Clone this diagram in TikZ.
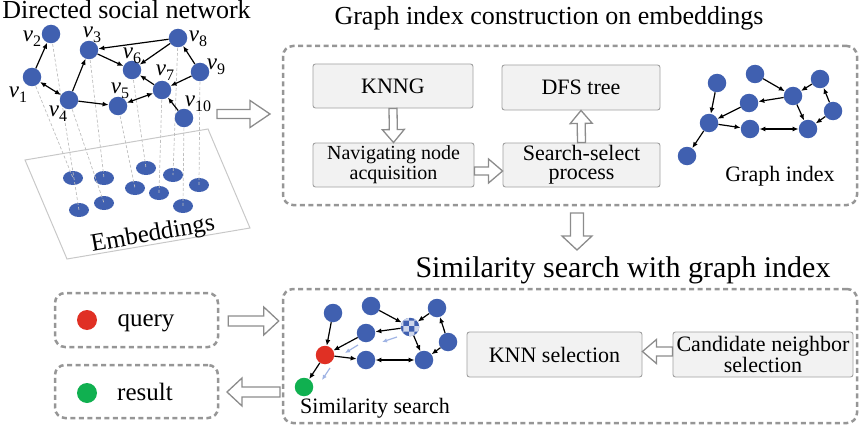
\documentclass[tikz,border=0pt]{standalone}
\usepackage{fontspec}
\setmainfont{Liberation Serif}
\usetikzlibrary{arrows.meta,shapes.geometric,patterns,calc}

\definecolor{nodeblue}{RGB}{64,96,176}
\definecolor{qred}{RGB}{224,48,36}
\definecolor{rgreen}{RGB}{16,176,80}
\definecolor{pathblue}{RGB}{160,180,228}
\definecolor{boxfill}{RGB}{242,242,242}
\definecolor{boxline}{RGB}{160,160,160}
\definecolor{dashgray}{RGB}{150,150,150}
\definecolor{hollowgray}{RGB}{140,140,140}
\definecolor{planegray}{RGB}{200,200,200}
\definecolor{projgray}{RGB}{190,190,190}

\newcommand{\hdfont}{\fontsize{26}{28}\selectfont}
\newcommand{\bxfont}{\fontsize{22}{19}\selectfont}
\newcommand{\vlab}[1]{{\fontsize{23}{23}\selectfont\itshape v}\raisebox{-5pt}{\fontsize{16}{16}\selectfont #1}}

% hollow block arrow: from, to, shaft half-width, head half-width, head length
\newcommand{\hollowarrow}[5]{%
  \coordinate (hab) at ($(#2)!#5!(#1)$);
  \draw[hollow] ($(#1)!#3!90:(#2)$) -- ($(hab)!#3!90:(#2)$) -- ($(hab)!#4!90:(#2)$)
    -- (#2) -- ($(hab)!#4!-90:(#2)$) -- ($(hab)!#3!-90:(#2)$) -- ($(#1)!#3!-90:(#2)$) -- cycle;
}

\tikzset{
  dot/.style={circle, fill=nodeblue, inner sep=0pt, minimum size=18.5pt},
  emb/.style={ellipse, fill=nodeblue, inner sep=0pt, minimum width=20pt, minimum height=14pt},
  conn/.style={line width=1.2pt, -{Latex[length=6pt,width=5pt]}},
  biconn/.style={line width=1.2pt, {Latex[length=6pt,width=5pt]}-{Latex[length=6pt,width=5pt]}},
  qpath/.style={pathblue, line width=1.2pt, -{Latex[length=5pt,width=4.5pt]}},
  proj/.style={projgray, line width=0.7pt, dash pattern=on 3pt off 2pt},
  stepbox/.style={draw=boxline, fill=boxfill, line width=0.9pt, rounded corners=2.5pt,
    inner sep=0pt, align=center, font=\bxfont},
  bigdash/.style={draw=dashgray, line width=2.5pt, dash pattern=on 5pt off 3.5pt,
    rounded corners=10pt, inner sep=0pt},
  hollow/.style={draw=hollowgray, fill=white, line width=1.3pt, line join=miter},
  vl/.style={inner sep=0pt},
}

\begin{document}
\begin{tikzpicture}[x=1pt, y=-1pt]
\useasboundingbox (0,0) rectangle (860,428);

% ---------- directed social network and its embedding plane ----------
\node[font=\hdfont, anchor=base] (title) at (126.5,19) {Directed social network};

\draw[planegray, line width=1pt] (25,160) -- (208,129) -- (250,228) -- (67,259) -- cycle;

\node[emb] (e1) at (73,178) {};
\node[emb] (e2) at (104,178) {};
\node[emb] (e3) at (146,168) {};
\node[emb] (e4) at (173,175) {};
\node[emb] (e5) at (135,188) {};
\node[emb] (e6) at (159,193) {};
\node[emb] (e7) at (199,185) {};
\node[emb] (e8) at (79,210) {};
\node[emb] (e9) at (104,203) {};
\node[emb] (e10) at (183,206) {};

\node[font=\fontsize{25}{25}\selectfont, rotate=10, inner sep=0pt] (embtxt) at (153,235) {Embeddings};

\coordinate (v1c) at (32,77);
\coordinate (v2c) at (51,34);
\coordinate (v3c) at (89,50);
\coordinate (v4c) at (69,100);
\coordinate (v5c) at (118,106);
\coordinate (v6c) at (132,70);
\coordinate (v7c) at (162,90);
\coordinate (v8c) at (178,38);
\coordinate (v9c) at (200,72);
\coordinate (v10c) at (184,118);

% projection lines from the network down to the embeddings
\draw[proj] (v1c) -- (e1.center);
\draw[proj] (v2c) -- (e8.center);
\draw[proj] (v3c) -- (e2.center);
\draw[proj] (v4c) -- (e9.center);
\draw[proj] (v5c) -- (e5.center);
\draw[proj] (v6c) -- (e3.center);
\draw[proj] (v7c) -- (e6.center);
\draw[proj] (v8c) -- (e4.center);
\draw[proj] (v9c) -- (e7.center);
\draw[proj] (v10c) -- (e10.center);

\foreach \i in {1,...,10} { \node[dot] (v\i) at (v\i c) {}; }

\node[vl] (l1) at (18,95) {\vlab{1}};
\node[vl] (l2) at (32,39) {\vlab{2}};
\node[vl] (l3) at (92,35) {\vlab{3}};
\node[vl] (l4) at (58,114) {\vlab{4}};
\node[vl] (l5) at (120,91) {\vlab{5}};
\node[vl] (l6) at (132,56) {\vlab{6}};
\node[vl] (l7) at (165,73) {\vlab{7}};
\node[vl] (l8) at (198,39) {\vlab{8}};
\node[vl] (l9) at (216,67) {\vlab{9}};
\node[vl] (l10) at (198,104) {\vlab{10}};

\draw[conn] (v1) -- (v2);
\draw[biconn] (v1) -- (v4);
\draw[conn] (v4) -- (v3);
\draw[conn] (v3) -- (v6);
\draw[conn] (v8) -- (v3);
\draw[conn] (v8) -- (v6);
\draw[conn] (v9) -- (v8);
\draw[conn] (v9) -- (v7);
\draw[conn] (v7) -- (v6);
\draw[conn] (v4) -- (v5);
\draw[biconn] (v5) -- (v7);
\draw[conn] (v10) -- (v7);

% ---------- graph index construction ----------
\node[font=\hdfont, anchor=base] (gtitle) at (549,25) {Graph index construction on embeddings};
\node[bigdash, minimum width=574pt, minimum height=159pt] (topbox) at (570,125.5) {};

\node[stepbox, minimum width=160pt, minimum height=44pt] (knng) at (393,86) {KNNG};
\node[stepbox, minimum width=158pt, minimum height=45pt] (dfs) at (581,87.5) {DFS tree};
\node[stepbox, minimum width=161pt, minimum height=44pt, font=\fontsize{20}{20}\selectfont] (nav) at (393.5,165) {Navigating node\\acquisition};
\node[stepbox, minimum width=157pt, minimum height=44pt] (ss) at (581.5,165) {Search-select\\process};

\hollowarrow{knng.south}{nav.north}{4pt}{11pt}{13pt}
\hollowarrow{ss.north}{dfs.south}{4pt}{11pt}{13pt}
\coordinate (navout) at ($(nav.east)+(0,6)$);
\coordinate (ssin) at ($(ss.west)+(0,6)$);
\hollowarrow{navout}{ssin}{4pt}{12pt}{14pt}

% graph index
\node[dot] (ga) at (717,83) {};
\node[dot] (gb) at (755,74) {};
\node[dot] (gc) at (820,79) {};
\node[dot] (gd) at (793,96) {};
\node[dot] (ge) at (749,103) {};
\node[dot] (gf) at (833,111) {};
\node[dot] (gg) at (709,123) {};
\node[dot] (gh) at (750,129) {};
\node[dot] (gi) at (808,129) {};
\node[dot] (gj) at (687,156) {};
\draw[conn] (ga) -- (gg);
\draw[conn] (gb) -- (gd);
\draw[conn] (gd) -- (ge);
\draw[conn] (gc) -- (gd);
\draw[conn] (gf) -- (gc);
\draw[conn] (gf) -- (gi);
\draw[conn] (gd) -- (gi);
\draw[conn] (ge) -- (gg);
\draw[conn] (gg) -- (gh);
\draw[biconn] (gh) -- (gi);
\draw[conn] (gg) -- (gj);
\node[font=\fontsize{22}{22}\selectfont] (gidx) at (780,176) {Graph index};

% network -> construction
\coordinate (netout) at (217,114);
\coordinate (topin) at (270,114);
\hollowarrow{netout}{topin}{4.5pt}{13.5pt}{20pt}

% construction -> search
\coordinate (dn1) at (577,213);
\coordinate (dn2) at (577,250);
\hollowarrow{dn1}{dn2}{6.5pt}{15pt}{14pt}

% ---------- similarity search ----------
\node[font=\fontsize{30}{32}\selectfont, anchor=base] (stitle) at (623,277) {Similarity search with graph index};
\node[bigdash, minimum width=574pt, minimum height=134pt] (botbox) at (570,356) {};

\node[stepbox, minimum width=175pt, minimum height=45pt] (knn) at (554.5,354.5) {KNN selection};
\node[stepbox, minimum width=180pt, minimum height=45pt, font=\fontsize{22}{17}\selectfont] (cand) at (763,354.5) {Candidate neighbor\\selection};
\coordinate (candout) at ($(cand.west)+(0,-3)$);
\coordinate (knnin) at ($(knn.east)+(0,-3)$);
\hollowarrow{candout}{knnin}{4.5pt}{12pt}{14pt}

\node[dot] (sA) at (333,313) {};
\node[dot] (sB) at (371,306) {};
\node[dot, preaction={fill=nodeblue}, pattern=checkerboard, pattern color=white!75!nodeblue] (sC) at (410,327) {};
\node[dot] (sD) at (437,308) {};
\node[dot] (sE) at (448,342) {};
\node[dot] (sF) at (366,333) {};
\node[dot, fill=qred] (sG) at (325,355) {};
\node[dot] (sH) at (366,360) {};
\node[dot] (sI) at (424,360) {};
\node[dot, fill=rgreen] (sJ) at (304,387) {};
\draw[conn] (sA) -- (sG);
\draw[conn] (sB) -- (sC);
\draw[conn] (sC) -- (sF);
\draw[conn] (sD) -- (sC);
\draw[conn] (sE) -- (sD);
\draw[conn] (sE) -- (sI);
\draw[conn] (sC) -- (sI);
\draw[conn] (sF) -- (sG);
\draw[conn] (sG) -- (sH);
\draw[biconn] (sH) -- (sI);
\draw[conn] (sG) -- (sJ);

% search route
\coordinate (r1a) at (397,337); \coordinate (r1b) at (382,342);
\coordinate (r2a) at (358,345); \coordinate (r2b) at (345,353);
\coordinate (r3a) at (330,368); \coordinate (r3b) at (322,380);
\draw[qpath] (r1a) -- (r1b);
\draw[qpath] (r2a) -- (r2b);
\draw[qpath] (r3a) -- (r3b);

\node[font=\fontsize{22}{22}\selectfont] (simtxt) at (375,408) {Similarity search};

% query and result
\node[bigdash, minimum width=163pt, minimum height=54pt] (query) at (136.5,320) {};
\node[bigdash, minimum width=163pt, minimum height=53pt] (result) at (136.5,391.5) {};
\node[circle, fill=qred, inner sep=0pt, minimum size=20pt] (qdot) at (87,320) {};
\node[circle, fill=rgreen, inner sep=0pt, minimum size=20pt] (rdot) at (87,393) {};
\node[font=\fontsize{25}{25}\selectfont, anchor=base] (qtxt) at (146,326) {query};
\node[font=\fontsize{25}{25}\selectfont, anchor=base] (rtxt) at (145,400) {result};

\coordinate (qa1) at ($(query.east)+(9,1)$);
\coordinate (qa2) at ($(botbox.west)+(-3,0)$);
\coordinate (qa2) at (qa2 |- qa1);
\hollowarrow{qa1}{qa2}{5pt}{14pt}{15pt}
\coordinate (ra1) at (280,392);
\coordinate (ra2) at (227,392);
\hollowarrow{ra1}{ra2}{5pt}{14pt}{15pt}
\end{tikzpicture}
\end{document}
